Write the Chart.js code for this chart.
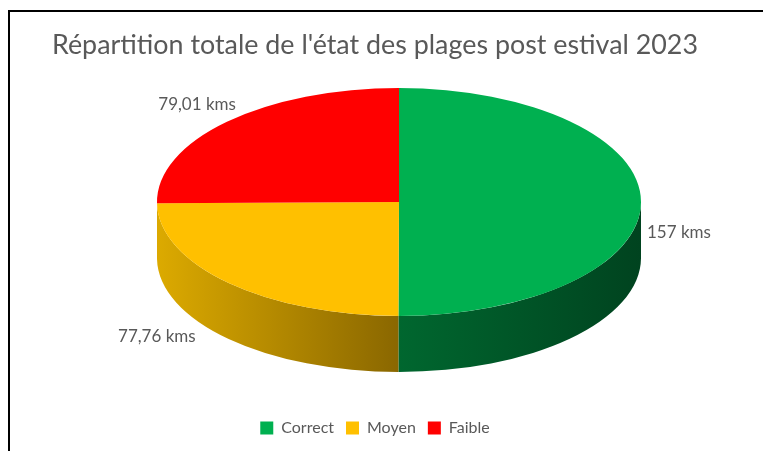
<!DOCTYPE html>
<html>
<head>
<meta charset="utf-8">
<script src="https://cdn.jsdelivr.net/npm/chart.js@4"></script>
<style>
  body { margin: 0; background: #fff; }
  #frame {
    position: absolute; left: 8px; top: 10px; width: 800px; height: 500px;
    border-left: 2px solid #000; border-top: 2px solid #000;
  }
  #pieChart { position: absolute; left: 0; top: 0; }
</style>
</head>
<body>
<div id="frame"></div>
<canvas id="pieChart" width="763" height="451"></canvas>
<script>
// data
const categories = ['Correct', 'Moyen', 'Faible'];
const kms = [157, 77.76, 79.01];
const valueLabels = ['157 kms', '77,76 kms', '79,01 kms'];

// colours (side colours: [left end, right end] of the wall gradient)
const topColors = ['#00B050', '#FFC000', '#FF0000'];
const sideColors = [['#00672f', '#00431f'], ['#dcaa00', '#8a6700'], ['#c00000', '#8a0000']];
const textGrey = '#595959';

// fake 3D : the pie is squashed into an ellipse and a side wall is drawn under it
const pie3d = {
    id: 'pie3d',
    beforeDatasetsDraw(chart, args, o) {
        const ctx = chart.ctx;
        const arcs = chart.getDatasetMeta(0).data;
        // side wall, only the front half is visible
        arcs.forEach((arc, i) => {
            const a = Math.max(arc.startAngle, 0);
            const b = Math.min(arc.endAngle, Math.PI);
            if (a >= b) return;
            const xa = o.cx + o.rx * Math.cos(a);
            const xb = o.cx + o.rx * Math.cos(b);
            const g = ctx.createLinearGradient(Math.min(xa, xb), 0, Math.max(xa, xb), 0);
            g.addColorStop(0, sideColors[i][0]);
            g.addColorStop(1, sideColors[i][1]);
            ctx.save();
            ctx.beginPath();
            ctx.ellipse(o.cx, o.cy, o.rx, o.ry, 0, a, b);
            ctx.ellipse(o.cx, o.cy + o.depth, o.rx, o.ry, 0, b, a, true);
            ctx.closePath();
            ctx.fillStyle = g;
            ctx.fill();
            ctx.restore();
        });
        // top face: keep the library's arcs, just map them onto the ellipse
        const first = arcs[0];
        const r = first.outerRadius;
        ctx.save();
        ctx.translate(o.cx, o.cy);
        ctx.scale(o.rx / r, o.ry / r);
        ctx.translate(-first.x, -first.y);
    },
    afterDatasetsDraw(chart, args, o) {
        const ctx = chart.ctx;
        ctx.restore();
        const arcs = chart.getDatasetMeta(0).data;
        ctx.save();
        ctx.font = '17px Lato';
        ctx.fillStyle = textGrey;
        ctx.textBaseline = 'middle';
        arcs.forEach((arc, i) => {
            const m = (arc.startAngle + arc.endAngle) / 2;
            const x = o.cx + o.rx * Math.cos(m) + o.nudge[i][0];
            const y = o.cy + o.ry * Math.sin(m) + o.nudge[i][1];
            ctx.textAlign = Math.cos(m) >= 0 ? 'left' : 'right';
            ctx.fillText(valueLabels[i], x, y);
        });
        ctx.restore();
    }
};

const ctx = document.getElementById('pieChart').getContext('2d');
new Chart(ctx, {
    type: 'pie',
    data: {
        labels: categories,
        datasets: [{
            data: kms,
            backgroundColor: topColors,
            borderWidth: 0,
            clip: false
        }]
    },
    plugins: [pie3d],
    options: {
        responsive: false,
        animation: false,
        devicePixelRatio: 1,
        layout: { padding: { left: 52, right: 65, top: 19, bottom: 5 } },
        plugins: {
            title: {
                display: true,
                text: "Répartition totale de l'état des plages post estival 2023",
                align: 'start',
                color: textGrey,
                font: { family: 'Lato', size: 27, weight: 'normal' },
                padding: { top: 10, bottom: 10 }
            },
            legend: {
                position: 'bottom',
                labels: {
                    color: textGrey,
                    font: { family: 'Lato', size: 16 },
                    boxWidth: 13,
                    boxHeight: 13,
                    padding: 12
                }
            },
            tooltip: { enabled: false },
            pie3d: {
                cx: 399, cy: 202, rx: 242, ry: 114, depth: 56,
                nudge: [[6, 30], [-33, 54], [9, -17]]
            }
        }
    }
});
</script>
</body>
</html>
